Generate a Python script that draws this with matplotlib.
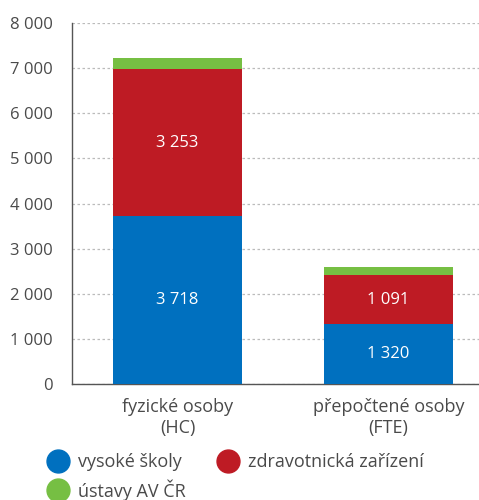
import matplotlib
matplotlib.use("Agg")
import matplotlib.pyplot as plt
from matplotlib.lines import Line2D
import numpy as np

categories = ["fyzické osoby\n(HC)", "přepočtené osoby\n(FTE)"]
series_names = ["vysoké školy", "zdravotnická zařízení", "ústavy AV ČR"]
vysoke_skoly = [3718, 1320]
zdravotnicka = [3253, 1091]
ustavy_av = [257, 190]
colors = ["#0070BF", "#BE1B24", "#76BF43"]
yticks = [0, 1000, 2000, 3000, 4000, 5000, 6000, 7000, 8000]
ytick_labels = ["0", "1 000", "2 000", "3 000", "4 000", "5 000", "6 000", "7 000", "8 000"]

plt.rcParams['font.family'] = ['Open Sans', 'DejaVu Sans']
txt_color = "#4A4A4A"

fig = plt.figure(figsize=(4.79, 5.0), dpi=100)
ax = fig.add_axes([72/479, 1-384/500, (479-72)/479, (384-23)/500])

x = np.arange(len(categories))
w = 0.61
ax.bar(x, vysoke_skoly, width=w, color=colors[0], zorder=3)
ax.bar(x, zdravotnicka, width=w, bottom=vysoke_skoly, color=colors[1], zorder=3)
bottom2 = [a + b for a, b in zip(vysoke_skoly, zdravotnicka)]
ax.bar(x, ustavy_av, width=w, bottom=bottom2, color=colors[2], zorder=3)

for i in range(len(categories)):
    ax.text(x[i], vysoke_skoly[i] / 2, f"{vysoke_skoly[i]:,}".replace(",", " "),
            ha="center", va="center", color="white", fontsize=12, zorder=4)
    ax.text(x[i], vysoke_skoly[i] + zdravotnicka[i] / 2, f"{zdravotnicka[i]:,}".replace(",", " "),
            ha="center", va="center", color="white", fontsize=12, zorder=4)

ax.set_xlim(-0.5, 1.43)
ax.set_ylim(0, 8000)
ax.set_yticks(yticks)
ax.set_yticklabels(ytick_labels)
ax.set_xticks(x)
ax.set_xticklabels(categories, linespacing=1.25)
ax.tick_params(axis="y", length=0, labelsize=12, labelcolor=txt_color, pad=14)
ax.tick_params(axis="x", length=0, labelsize=13, labelcolor=txt_color, pad=10)
ax.yaxis.grid(True, linestyle=(0, (2, 2)), color="#BBBBBB", linewidth=0.9, zorder=0)
ax.spines["top"].set_visible(False)
ax.spines["right"].set_visible(False)
ax.spines["left"].set_color("#555555")
ax.spines["bottom"].set_color("#555555")
ax.spines["left"].set_linewidth(1.0)
ax.spines["bottom"].set_linewidth(1.0)

handles = [Line2D([0], [0], marker="o", color="none", markerfacecolor=c, markeredgecolor=c,
                  markersize=16.5) for c in colors]
fs = 13
fig.legend(handles[:2], series_names[:2], loc="center left", bbox_to_anchor=(47/479, 1-462/500),
           ncol=2, frameon=False, fontsize=fs, handletextpad=0.5, columnspacing=2.0,
           labelcolor=txt_color, handlelength=1.2, borderpad=0, borderaxespad=0)
fig.legend(handles[2:], series_names[2:], loc="center left", bbox_to_anchor=(47/479, 1-490/500),
           ncol=1, frameon=False, fontsize=fs, handletextpad=0.5,
           labelcolor=txt_color, handlelength=1.2, borderpad=0, borderaxespad=0)

fig.savefig("out.png", dpi=100)
